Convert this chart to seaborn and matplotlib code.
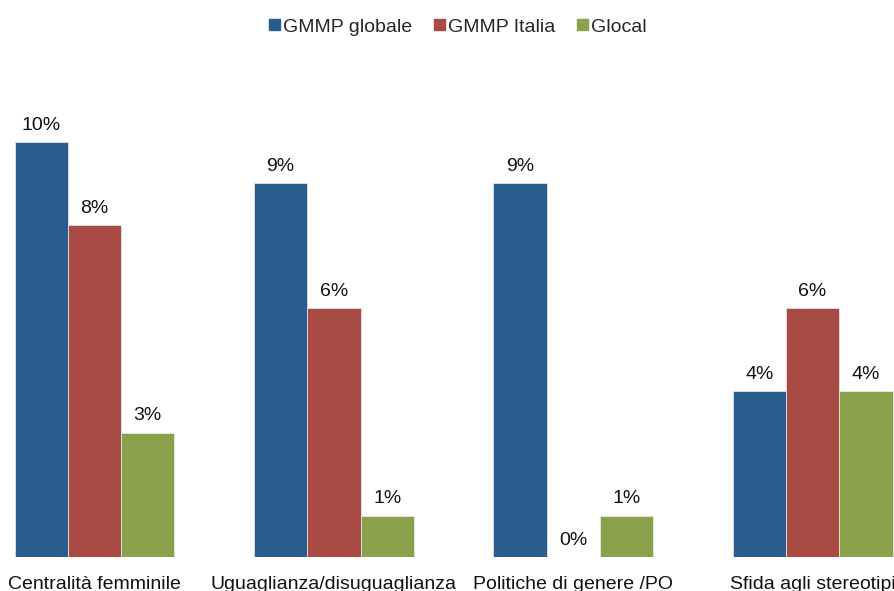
import matplotlib
matplotlib.use("Agg")
import matplotlib.pyplot as plt
import seaborn as sns
import pandas as pd

categories = ["Centralità femminile", "Uguaglianza/disuguaglianza",
              "Politiche di genere /PO", "Sfida agli stereotipi"]
series = ["GMMP globale", "GMMP Italia", "Glocal"]
gmmp_globale = [10, 9, 9, 4]
gmmp_italia = [8, 6, 0, 6]
glocal = [3, 1, 1, 4]
colors = ["#2A5C8E", "#A84B45", "#8AA24B"]

rows = []
for name, vals in zip(series, [gmmp_globale, gmmp_italia, glocal]):
    for cat, v in zip(categories, vals):
        rows.append({"categoria": cat, "serie": name, "valore": v})
df = pd.DataFrame(rows)

sns.set_style("white")
plt.rcParams["font.family"] = ["Liberation Sans", "DejaVu Sans"]

W, H = 894, 591
fig = plt.figure(figsize=(W / 100, H / 100), dpi=100)
base_px = 557
ax = fig.add_axes([0, (H - base_px) / H, 1, base_px / H])

sns.barplot(data=df, x="categoria", y="valore", hue="serie",
            palette=colors, saturation=1, width=0.668, gap=0, ax=ax,
            edgecolor="#eeeeee", linewidth=0.5, legend=False)

ax.set_xlim(-0.395, 3.34)
ax.set_ylim(0, base_px / 41.5)

for cont in ax.containers:
    ax.bar_label(cont, labels=[f"{int(v)}%" for v in cont.datavalues],
                 padding=6, fontsize=14, color="#111111")

for s in ax.spines.values():
    s.set_visible(False)
ax.set_yticks([])
ax.set_xlabel("")
ax.set_ylabel("")
ax.tick_params(axis="x", length=0, pad=14, labelsize=14, labelcolor="#111111")

handles = [plt.Rectangle((0, 0), 1, 1, color=c) for c in colors]
fig.legend(handles, series, loc="center", bbox_to_anchor=(0.512, 1 - 27 / H),
           ncol=3, frameon=False, fontsize=14, handlelength=0.55,
           handleheight=0.55, handletextpad=0.15, columnspacing=1.15)

fig.savefig("out.png", dpi=100)
